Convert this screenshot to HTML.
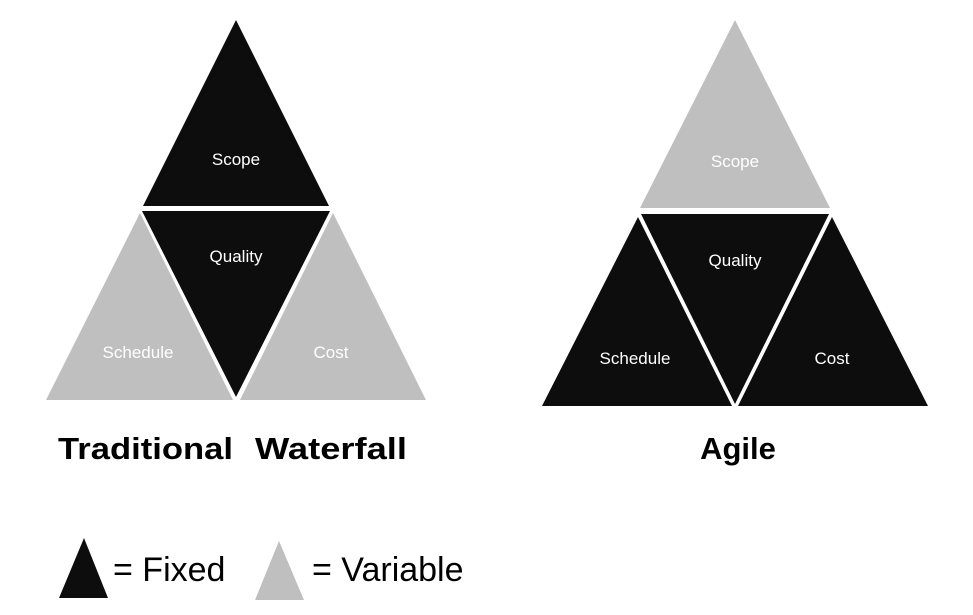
<!DOCTYPE html>
<html><head><style>
html,body{margin:0;padding:0;background:#fff;}
svg{display:block;}
text{font-family:"Liberation Sans","DejaVu Sans",sans-serif;}
</style></head><body>
<svg width="973" height="615" viewBox="0 0 973 615" xmlns="http://www.w3.org/2000/svg">
<rect width="973" height="615" fill="#fff"/>
<!-- Traditional -->
<polygon points="236,20 329,206 143,206" fill="#0d0d0d"/>
<polygon points="142,211 330,211 236,397" fill="#0d0d0d"/>
<polygon points="140,213 233,400 46,400" fill="#bfbfbf"/>
<polygon points="333,213 426,400 240,400" fill="#bfbfbf"/>
<g font-size="17" text-anchor="middle">
<text x="236" y="165" fill="#fff">Scope</text>
<text x="236" y="262" fill="#fff">Quality</text>
<text x="138" y="358" fill="#fff">Schedule</text>
<text x="331" y="358" fill="#fff">Cost</text>
</g>
<text x="58" y="459" font-size="31" font-weight="bold" fill="#000" textLength="175" lengthAdjust="spacingAndGlyphs">Traditional</text>
<text x="255" y="459" font-size="31" font-weight="bold" fill="#000" textLength="152" lengthAdjust="spacingAndGlyphs">Waterfall</text>
<!-- Agile -->
<polygon points="735,20 830,208 640,208" fill="#bfbfbf"/>
<polygon points="641,214 829,214 735,404" fill="#0d0d0d"/>
<polygon points="638,217 732,406 542,406" fill="#0d0d0d"/>
<polygon points="832,217 928,406 738,406" fill="#0d0d0d"/>
<g font-size="17" text-anchor="middle">
<text x="735" y="167" fill="#fff">Scope</text>
<text x="735" y="266" fill="#fff">Quality</text>
<text x="635" y="364" fill="#fff">Schedule</text>
<text x="832" y="364" fill="#fff">Cost</text>
</g>
<text x="738" y="459" font-size="31" font-weight="bold" text-anchor="middle" fill="#000">Agile</text>
<!-- Legend -->
<polygon points="84,538 108,598 59,598" fill="#0d0d0d"/>
<text x="113" y="581" font-size="34" fill="#000">= Fixed</text>
<polygon points="279,541 304,600 255,600" fill="#bfbfbf"/>
<text x="312" y="581" font-size="34" fill="#000">= Variable</text>
</svg>
</body></html>
